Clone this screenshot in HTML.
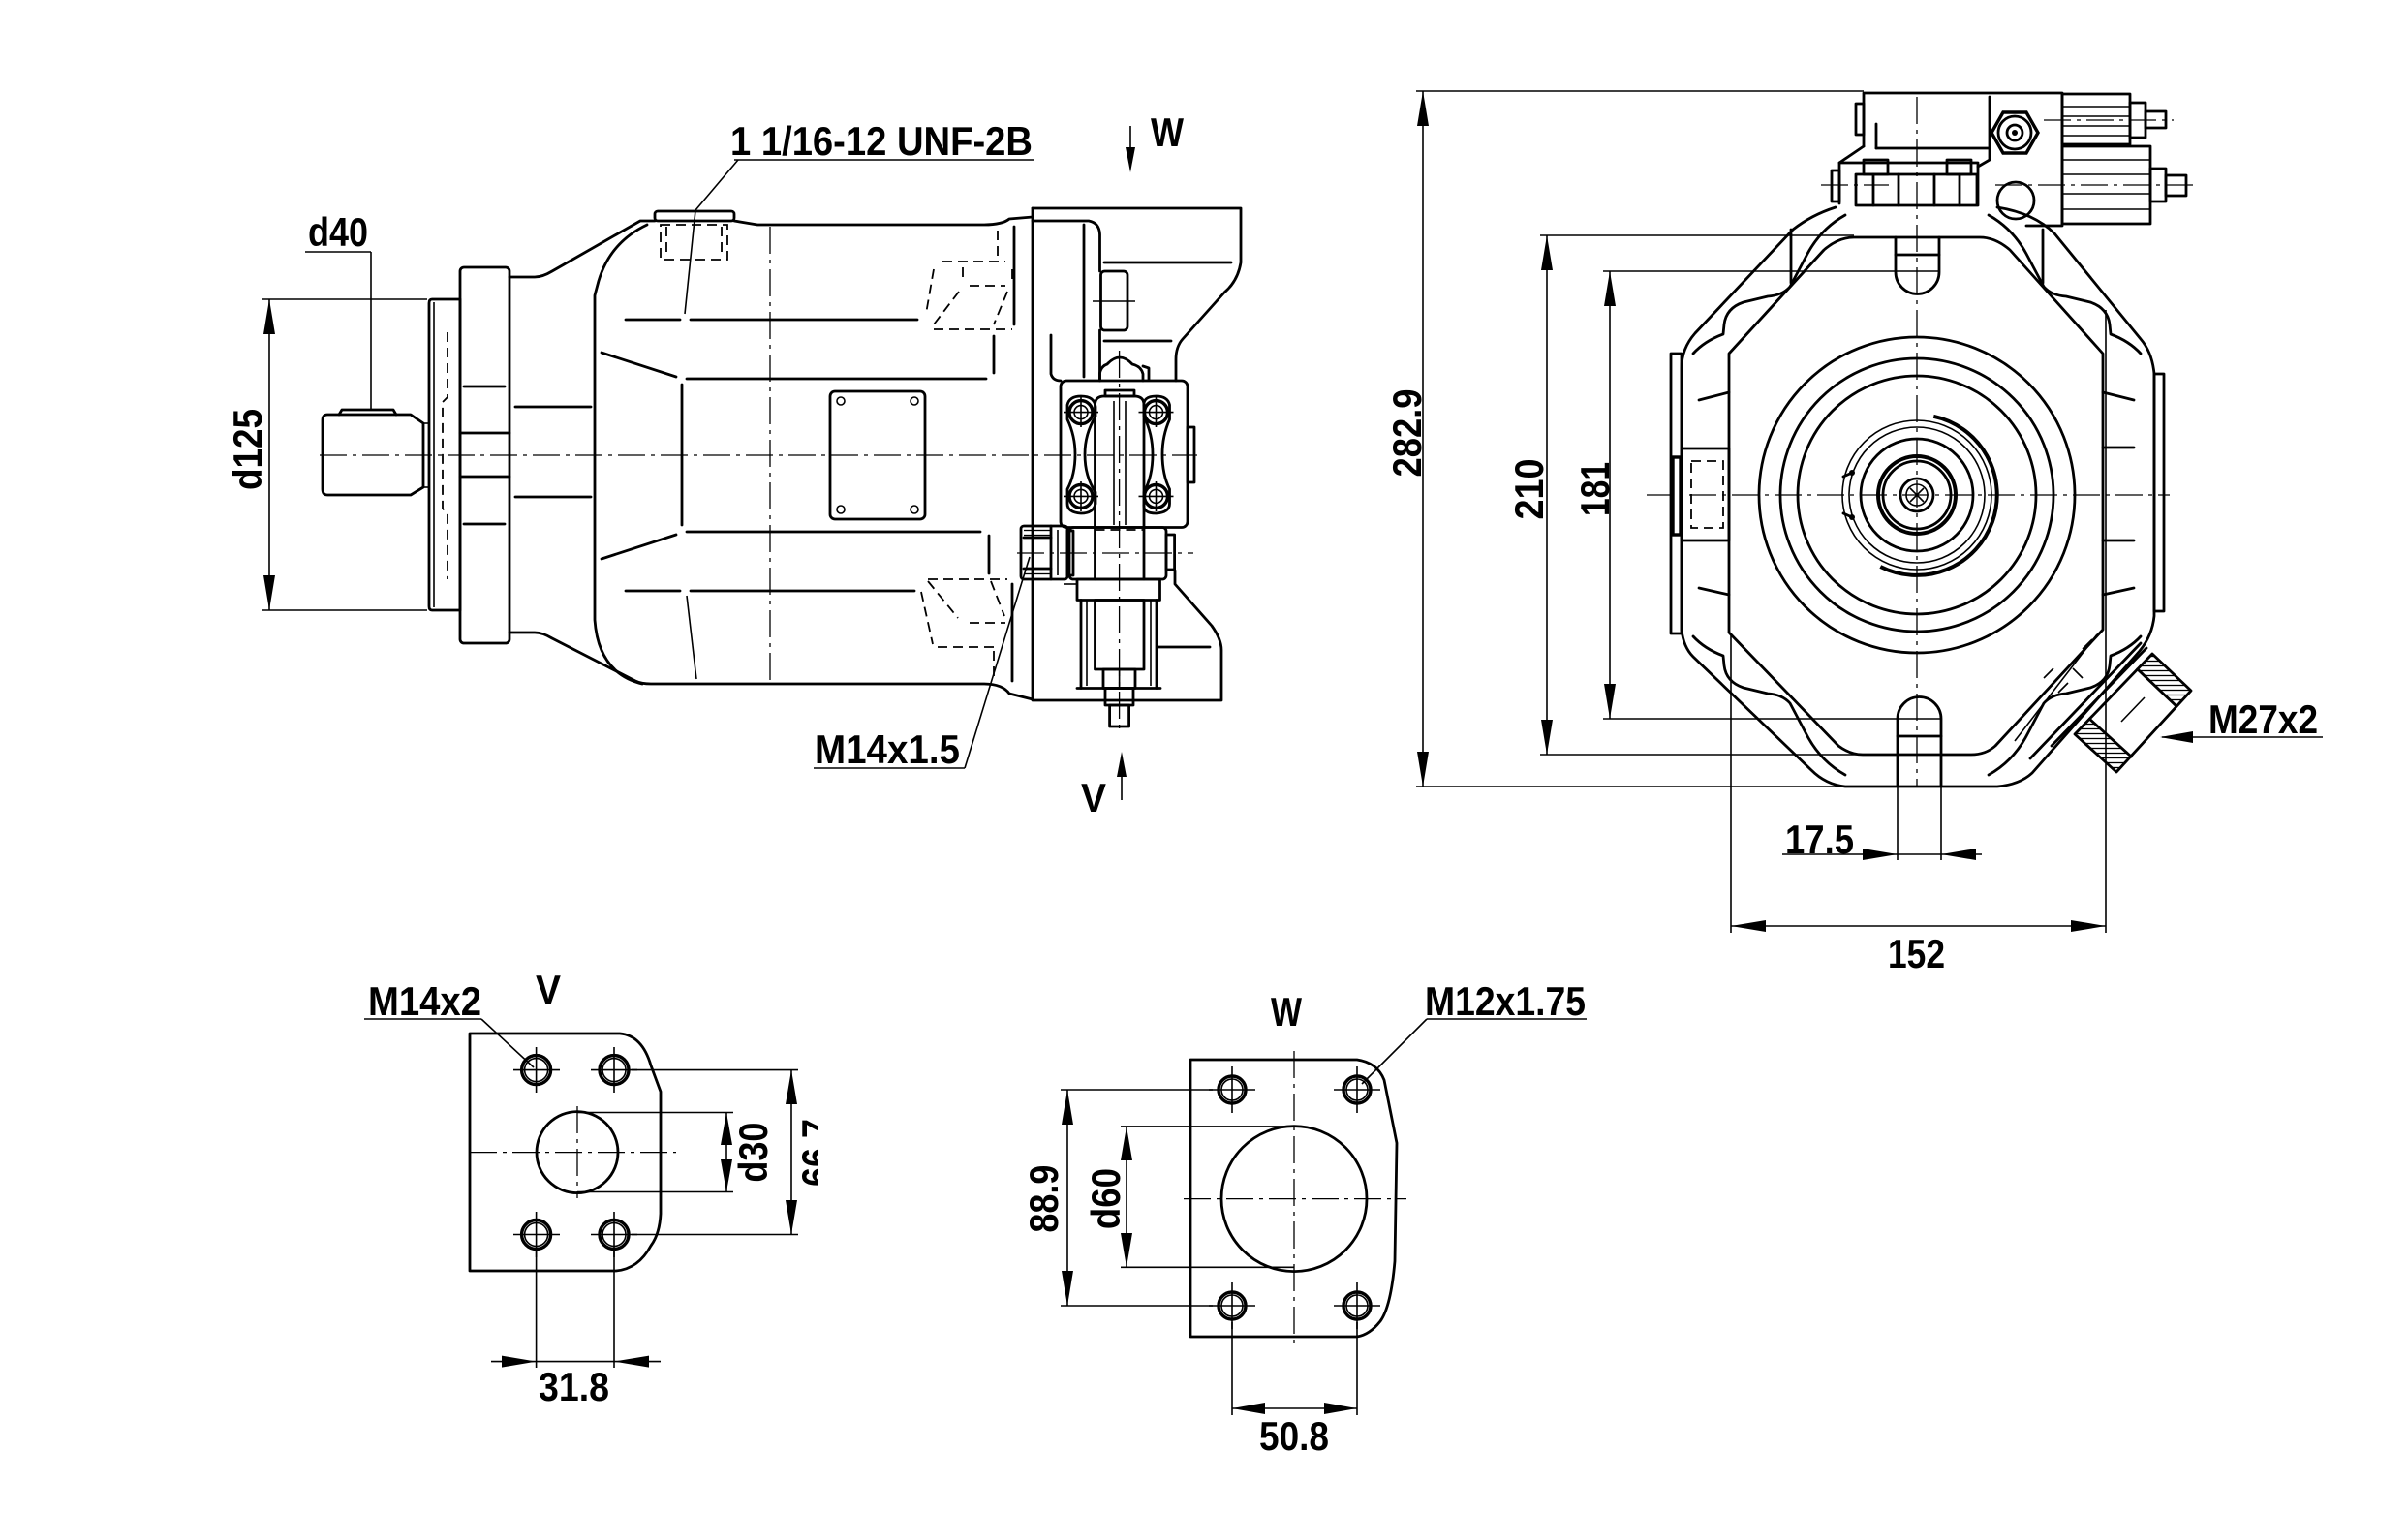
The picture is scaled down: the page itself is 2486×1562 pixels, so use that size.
<!DOCTYPE html>
<html><head><meta charset="utf-8"><style>
html,body{margin:0;padding:0;background:#fff;}
svg{display:block;}
.o{fill:none;stroke:#000;stroke-width:2.8;stroke-linejoin:round;stroke-linecap:round}
.k{fill:none;stroke:#000;stroke-width:3.4}
.t{fill:none;stroke:#000;stroke-width:1.6}
.d{fill:none;stroke:#000;stroke-width:1.8;stroke-dasharray:10 6}
.c{fill:none;stroke:#000;stroke-width:1.3;stroke-dasharray:28 6 4 6}
.a{fill:#000;stroke:none}
text{font-family:"Liberation Sans",Arial,sans-serif;font-weight:bold;font-size:42px;fill:#000}
</style></head><body>
<svg width="2486" height="1562" viewBox="0 0 2486 1562" xmlns="http://www.w3.org/2000/svg">
<defs>
<clipPath id="clip667"><rect x="800" y="1130" width="45" height="120"/></clipPath>
<pattern id="hat" patternUnits="userSpaceOnUse" width="5" height="5"><line x1="0" y1="2.5" x2="5" y2="2.5" stroke="#000" stroke-width="1.3"/></pattern>
</defs>
<rect x="0" y="0" width="2486" height="1562" fill="#fff"/>

<!-- ================= LEFT VIEW ================= -->
<line class="c" x1="330" y1="470" x2="1236" y2="470"/>
<!-- shaft -->
<path class="o" d="M338 428 L424 428 L437 437 L437 503 L424 511 L338 511 Q333 511 333 505 L333 434 Q333 428 338 428 Z"/>
<path class="o" d="M350 428 L353 423 L406 423 L409 428"/>
<line class="t" x1="437" y1="437" x2="443" y2="437"/>
<line class="t" x1="437" y1="503" x2="443" y2="503"/>
<!-- pilot -->
<path class="o" d="M446 309 L475 309 L475 630 L446 630 Q443 630 443 626 L443 313 Q443 309 446 309 Z"/>
<line class="t" x1="448" y1="312" x2="448" y2="627"/>
<path class="d" d="M462 343 L462 410 L457 415 L457 525 L462 530 L462 598"/>
<!-- flange -->
<rect class="o" x="475" y="276" width="51" height="388" rx="4"/>
<line class="o" x1="479" y1="399" x2="521" y2="399"/>
<line class="o" x1="475" y1="447" x2="526" y2="447"/>
<line class="o" x1="475" y1="492" x2="526" y2="492"/>
<line class="o" x1="479" y1="541" x2="521" y2="541"/>
<!-- neck & housing -->
<path class="o" d="M526 286 L552 286 Q560 286 570 280 L661 228 L676 228"/>
<rect class="o" x="676" y="218" width="82" height="10" rx="3"/>
<path class="o" d="M758 228 L782 232 L1015 232 Q1035 232 1042 226 L1066 224"/>
<path class="o" d="M668 232 Q630 250 618 290 L614 305 L614 640 Q618 695 663 706"/>
<path class="o" d="M526 653 L552 653 Q560 653 570 659 L656 703 Q662 706 672 706 L1015 706 Q1035 706 1042 716 L1066 722"/>
<rect class="d" x="682" y="232" width="69" height="36"/>
<line class="d" x1="688" y1="234" x2="688" y2="266"/>
<line class="d" x1="745" y1="234" x2="745" y2="266"/>
<line class="c" x1="795" y1="234" x2="795" y2="704"/>
<!-- housing internal lines -->
<line class="o" x1="532" y1="420" x2="610" y2="420"/>
<line class="o" x1="532" y1="513" x2="610" y2="513"/>
<line class="o" x1="646" y1="330" x2="702" y2="330"/>
<line class="o" x1="713" y1="330" x2="947" y2="330"/>
<line class="o" x1="646" y1="610" x2="702" y2="610"/>
<line class="o" x1="713" y1="610" x2="944" y2="610"/>
<line class="o" x1="709" y1="391" x2="1018" y2="391"/>
<line class="o" x1="709" y1="549" x2="1012" y2="549"/>
<line class="o" x1="621" y1="364" x2="698" y2="389"/>
<line class="o" x1="621" y1="577" x2="698" y2="552"/>
<line class="o" x1="704" y1="397" x2="704" y2="542"/>
<line class="t" x1="718" y1="217" x2="707" y2="324"/>
<line class="t" x1="709" y1="615" x2="719" y2="701"/>
<!-- nameplate -->
<rect class="o" x="857" y="404" width="98" height="132" rx="5"/>
<circle class="t" cx="868" cy="414" r="4"/><circle class="t" cx="944" cy="414" r="4"/>
<circle class="t" cx="868" cy="526" r="4"/><circle class="t" cx="944" cy="526" r="4"/>
<!-- dashed ribs top -->
<path class="d" d="M973 270 L1038 270 M1001 295 L1038 295 M964 340 L1045 340 M964 278 L956 324 M1045 278 L1045 293 M994 276 L994 291 M990 301 L964 335 M1040 301 L1026 335 M1030 238 L1030 265"/>
<line class="o" x1="1047" y1="234" x2="1047" y2="335"/>
<line class="o" x1="1026" y1="347" x2="1026" y2="385"/>
<!-- dashed ribs bottom -->
<path class="d" d="M958 598 L1040 598 M1001 643 L1038 643 M968 668 L1030 668 M951 611 L963 665 M958 600 L989 638 M1023 600 L1037 636 M1026 672 L1026 699"/>
<line class="o" x1="1021" y1="553" x2="1021" y2="592"/>
<line class="o" x1="1045" y1="603" x2="1045" y2="703"/>
<!-- end block -->
<path class="o" d="M1066 215 L1281 215 L1281 271 Q1278 290 1264 302 L1221 350 Q1214 358 1214 371 L1214 393"/>
<path class="o" d="M1213 589 L1213 603 L1251 646 Q1261 660 1261 671 L1261 723 L1066 723 L1066 215"/>
<path class="o" d="M1066 228 L1124 228 Q1135 230 1135.5 242 L1135.5 280"/>
<line class="o" x1="1119" y1="232" x2="1119" y2="389"/>
<path class="o" d="M1085 346 L1085 386 Q1087 393 1095 393"/>
<line class="o" x1="1140" y1="271" x2="1271" y2="271"/>
<line class="o" x1="1140" y1="352" x2="1209" y2="352"/>
<line class="o" x1="1196" y1="668" x2="1249" y2="668"/>
<rect class="o" x="1136.5" y="280" width="27.5" height="61" rx="4"/>
<line class="t" x1="1128" y1="311" x2="1172" y2="311"/>
<line class="o" x1="1135.5" y1="341" x2="1135.5" y2="393"/>
<!-- controller -->
<rect class="o" x="1095" y="393" width="131" height="151.5" rx="6"/>
<rect class="o" x="1226" y="441" width="7" height="57"/>
<path class="o" d="M1135.5 393 L1135.5 385 Q1137 378 1143 376 Q1156 362 1169 376 Q1178 378 1180 386 L1180 393"/>
<path class="o" d="M1180 378 L1186 380 L1186 392"/>
<path class="o" d="M1102 418 Q1104 409 1116 409 Q1130 409 1131 420 L1131 430 Q1120 448 1120 469 Q1120 492 1131 508 L1131 520 Q1129 530 1116 530 Q1102 529 1102 520 L1102 505 Q1110 490 1110 469 Q1110 450 1102 433 Z"/>
<path class="o" d="M1207.5 418 Q1205.5 409 1193.5 409 Q1179.5 409 1181 420 L1181 430 Q1190 448 1190 469 Q1190 492 1181 508 L1181 520 Q1179.5 530 1193.5 530 Q1207.5 529 1207.5 520 L1207.5 505 Q1200 490 1200 469 Q1200 450 1207.5 433 Z"/>
<g>
<circle class="k" cx="1116" cy="425.6" r="12"/><circle class="t" cx="1116" cy="425.6" r="7"/>
<circle class="k" cx="1193.5" cy="425.6" r="12"/><circle class="t" cx="1193.5" cy="425.6" r="7"/>
<circle class="k" cx="1116" cy="512.4" r="12"/><circle class="t" cx="1116" cy="512.4" r="7"/>
<circle class="k" cx="1193.5" cy="512.4" r="12"/><circle class="t" cx="1193.5" cy="512.4" r="7"/>
<path class="t" d="M1098 425.6 L1134 425.6 M1116 410 L1116 441 M1175.5 425.6 L1211.5 425.6 M1193.5 410 L1193.5 441 M1098 512.4 L1134 512.4 M1116 497 L1116 528 M1175.5 512.4 L1211.5 512.4 M1193.5 497 L1193.5 528"/>
</g>
<path class="o" d="M1130.5 544.5 L1130.5 418 Q1130.5 409 1140 409 L1171 409 Q1181 409 1181 418 L1181 544.5"/>
<rect class="o" x="1141" y="403" width="30" height="6"/>
<line class="t" x1="1150" y1="414" x2="1150" y2="542"/>
<line class="t" x1="1162" y1="414" x2="1162" y2="542"/>
<rect class="o" x="1104" y="544.5" width="100" height="53.5" rx="4"/>
<line class="o" x1="1130.5" y1="544.5" x2="1130.5" y2="598"/>
<line class="o" x1="1181" y1="544.5" x2="1181" y2="598"/>
<path class="d" d="M1130.5 547 L1181 547"/>
<rect class="o" x="1204" y="552" width="8.6" height="36"/>
<!-- port nut M14x1.5 -->
<rect class="o" x="1054" y="543" width="48" height="55" rx="3"/>
<line class="o" x1="1085" y1="543" x2="1085" y2="598"/>
<line class="t" x1="1092" y1="547" x2="1092" y2="594"/>
<polygon points="1057,546 1085,546 1085,555 1057,555" fill="url(#hat)"/>
<polygon points="1057,587 1085,587 1085,595 1057,595" fill="url(#hat)"/>
<line class="o" x1="1057" y1="555" x2="1085" y2="555"/>
<line class="o" x1="1057" y1="587" x2="1085" y2="587"/>
<rect class="o" x="1102" y="548" width="6" height="46"/>
<line class="t" x1="1098" y1="603" x2="1112" y2="603"/>
<rect class="o" x="1112" y="598" width="85.5" height="21.5"/>
<line class="o" x1="1116" y1="619.5" x2="1116" y2="710.5"/>
<line class="o" x1="1194" y1="619.5" x2="1194" y2="710.5"/>
<line class="o" x1="1112" y1="710.5" x2="1198" y2="710.5"/>
<rect class="o" x="1130.5" y="619.5" width="50.5" height="71.5"/>
<line class="t" x1="1122" y1="620" x2="1122" y2="708"/>
<line class="t" x1="1188" y1="620" x2="1188" y2="708"/>
<rect class="o" x="1139" y="691" width="33" height="19.5"/>
<line class="t" x1="1155.6" y1="691" x2="1155.6" y2="710"/>
<rect class="o" x="1141" y="710.5" width="29" height="17.5"/>
<rect class="o" x="1145.6" y="728" width="20" height="22"/>
<line class="c" x1="1155.6" y1="362" x2="1155.6" y2="758"/>
<line class="c" x1="1050" y1="571" x2="1232" y2="571"/>

<!-- left view dims/labels -->
<line class="t" x1="278" y1="309" x2="278" y2="630"/>
<polygon class="a" points="278,309 272,345 284,345"/>
<polygon class="a" points="278,630 272,594 284,594"/>
<line class="t" x1="271" y1="309" x2="441" y2="309"/>
<line class="t" x1="271" y1="630" x2="441" y2="630"/>
<text x="255" y="479" text-anchor="middle" transform="rotate(-90 255 464)" textLength="84" lengthAdjust="spacingAndGlyphs">d125</text>
<text x="318" y="254" textLength="62" lengthAdjust="spacingAndGlyphs">d40</text>
<line class="t" x1="315" y1="260" x2="383" y2="260"/>
<line class="t" x1="383" y1="260" x2="383" y2="423"/>
<text x="754" y="160" textLength="312" lengthAdjust="spacingAndGlyphs">1 1/16-12 UNF-2B</text>
<line class="t" x1="758" y1="165" x2="1068" y2="165"/>
<line class="t" x1="762" y1="165" x2="718" y2="217"/>
<text x="1188" y="151" textLength="34" lengthAdjust="spacingAndGlyphs">W</text>
<line class="t" x1="1167" y1="130" x2="1167" y2="156"/>
<polygon class="a" points="1167,178 1162,152 1172,152"/>
<text x="841" y="788" textLength="150" lengthAdjust="spacingAndGlyphs">M14x1.5</text>
<line class="t" x1="840" y1="793" x2="996" y2="793"/>
<line class="t" x1="996" y1="793" x2="1063" y2="575"/>
<text x="1116" y="838" textLength="26" lengthAdjust="spacingAndGlyphs">V</text>
<line class="t" x1="1158" y1="798" x2="1158" y2="826"/>
<polygon class="a" points="1158,776 1153,802 1163,802"/>

<!-- ================= RIGHT VIEW ================= -->
<line class="t" x1="1462" y1="94" x2="1924" y2="94"/>
<line class="t" x1="1462" y1="812" x2="1903" y2="812"/>
<line class="t" x1="1469" y1="94" x2="1469" y2="812"/>
<polygon class="a" points="1469,94 1463,130 1475,130"/>
<polygon class="a" points="1469,812 1463,776 1475,776"/>
<text x="1452" y="462" text-anchor="middle" transform="rotate(-90 1452 447)" textLength="91" lengthAdjust="spacingAndGlyphs">282.9</text>
<line class="t" x1="1590" y1="243" x2="1914" y2="243"/>
<line class="t" x1="1590" y1="779" x2="1926" y2="779"/>
<line class="t" x1="1597" y1="243" x2="1597" y2="779"/>
<polygon class="a" points="1597,243 1591,279 1603,279"/>
<polygon class="a" points="1597,779 1591,743 1603,743"/>
<text x="1578" y="520" text-anchor="middle" transform="rotate(-90 1578 505)" textLength="63" lengthAdjust="spacingAndGlyphs">210</text>
<line class="t" x1="1655" y1="280" x2="2002" y2="280"/>
<line class="t" x1="1655" y1="742" x2="2004" y2="742"/>
<line class="t" x1="1662" y1="280" x2="1662" y2="742"/>
<polygon class="a" points="1662,280 1656,316 1668,316"/>
<polygon class="a" points="1662,742 1656,706 1668,706"/>
<text x="1646" y="520" text-anchor="middle" transform="rotate(-90 1646 505)" textLength="56" lengthAdjust="spacingAndGlyphs">181</text>

<!-- control block -->
<path class="o" d="M1924 151 L1924 96 L2129 96 L2129 233 L2092 233"/>
<path class="o" d="M2054 100 L2054 165 L2042 172"/>
<rect class="o" x="1916" y="107" width="8" height="32"/>
<line class="o" x1="1924" y1="151" x2="1899" y2="168"/>
<path class="o" d="M1899 210 L1899 168 L2042 168 L2042 212"/>
<rect class="o" x="1891" y="176" width="8" height="32"/>
<rect class="o" x="1916" y="180" width="125" height="32"/>
<rect class="o" x="1924" y="165" width="25" height="15"/>
<rect class="o" x="2010" y="165" width="25" height="15"/>
<path class="o" d="M1934 180 L1934 212 M1960 180 L1960 212 M1997 180 L1997 212 M2023 180 L2023 212"/>
<line class="o" x1="1937" y1="153" x2="2054" y2="153"/>
<line class="o" x1="1937" y1="128" x2="1937" y2="153"/>
<polygon class="k" points="2104,137 2092,158 2068,158 2056,137 2068,116 2092,116"/>
<circle class="o" cx="2080" cy="137" r="17"/>
<circle class="o" cx="2080" cy="137" r="8"/>
<circle class="a" cx="2080" cy="137" r="3"/>
<circle class="o" cx="2081" cy="207" r="19"/>
<rect class="o" x="2129" y="97" width="70" height="52"/>
<path class="t" d="M2129 110 L2199 110 M2129 120 L2199 120 M2129 130 L2199 130 M2129 140 L2199 140"/>
<rect class="o" x="2199" y="106" width="16" height="36"/>
<rect class="o" x="2215" y="115" width="21" height="17"/>
<rect class="o" x="2129" y="151" width="91" height="80"/>
<path class="t" d="M2129 165 L2220 165 M2129 180 L2220 180 M2129 200 L2220 200 M2129 216 L2220 216"/>
<rect class="o" x="2220" y="174" width="16" height="34"/>
<rect class="o" x="2236" y="181" width="21" height="21"/>
<line class="c" x1="2110" y1="124" x2="2244" y2="124"/>
<line class="c" x1="2060" y1="191" x2="2264" y2="191"/>
<line class="c" x1="1880" y1="191" x2="1950" y2="191"/>

<!-- outer shell -->
<path class="o" d="M1895 214 Q1870 222 1851 237 L1750 344 Q1736 360 1736 380 L1736 650 Q1738 668 1748 678 L1870 795 Q1885 810 1905 812 L2062 812 Q2085 810 2098 798 L2209 672 Q2222 656 2224 636 L2224 386 Q2222 364 2210 350 L2121 241 Q2100 220 2062 214"/>
<path class="o" d="M1905 222 Q1880 236 1866 262 L1848 296 Q1840 305 1825 306 L1800 312 Q1782 318 1780 335 L1779 345 Q1760 352 1748 365"/>
<path class="o" d="M2053 222 Q2078 236 2092 262 L2110 296 Q2118 305 2133 306 L2158 312 Q2176 318 2178 335 L2179 345 Q2198 352 2210 365"/>
<path class="o" d="M1905 800 Q1880 786 1866 760 L1848 726 Q1840 717 1825 716 L1800 710 Q1782 704 1780 687 L1779 677 Q1760 670 1748 657"/>
<path class="o" d="M2053 800 Q2078 786 2092 760 L2110 726 Q2118 717 2133 716 L2158 710 Q2176 704 2178 687 L2179 677 Q2198 670 2210 657"/>
<line class="o" x1="1849" y1="237" x2="1849" y2="292"/>
<line class="o" x1="2109" y1="237" x2="2109" y2="292"/>
<!-- inner plate -->
<path class="o" d="M1914 245 L2044 245 Q2060 245 2075 258 L2171 365 L2171 650 L2060 770 Q2050 779 2035 779 L1923 779 Q1910 779 1898 770 L1785 653 L1785 365 L1883 258 Q1898 245 1914 245 Z"/>
<path class="o" d="M1957 245 L1957 281 A22.5 22.5 0 0 0 2002 281 L2002 245"/>
<line class="o" x1="1957" y1="263" x2="2002" y2="263"/>
<path class="o" d="M1959 812 L1959 742 A22.5 22.5 0 0 1 2004 742 L2004 812"/>
<line class="o" x1="1959" y1="760" x2="2004" y2="760"/>
<rect class="o" x="1725" y="365" width="11" height="289"/>
<rect class="o" x="1736" y="463" width="49" height="95"/>
<rect class="d" x="1746" y="476" width="33" height="69"/>
<rect class="k" x="1727" y="472" width="8" height="80"/>
<rect class="o" x="2224" y="386" width="10" height="245"/>
<path class="o" d="M1754 413 L1785 405 M1754 607 L1785 614 M2171 405 L2203 413 M2171 462 L2203 462 M2171 558 L2203 558 M2171 614 L2203 607"/>
<circle class="o" cx="1979" cy="511" r="163"/>
<circle class="o" cx="1979" cy="511" r="141"/>
<circle class="o" cx="1979" cy="511" r="123"/>
<circle class="t" cx="1979" cy="511" r="77"/>
<circle class="t" cx="1979" cy="511" r="70"/>
<path d="M1996.3 429.8 A83 83 0 1 1 1941.3 585" fill="none" stroke="#000" stroke-width="4"/>
<circle class="o" cx="1979" cy="511" r="58"/>
<circle cx="1979" cy="511" r="40" fill="none" stroke="#000" stroke-width="4"/>
<circle class="o" cx="1979" cy="511" r="35"/>
<circle class="o" cx="1979" cy="511" r="17"/>
<circle class="t" cx="1979" cy="511" r="11"/>
<path class="t" d="M1972 504 L1986 518 M1986 504 L1972 518"/>
<path class="o" d="M1903 492 L1912 488 M1903 530 L1912 534"/>
<circle class="a" cx="1912" cy="488" r="3"/><circle class="a" cx="1912" cy="534" r="3"/>
<line class="c" x1="1979" y1="100" x2="1979" y2="812"/>
<line class="c" x1="1700" y1="511" x2="2240" y2="511"/>
<!-- M27 fitting -->
<polygon points="2222,675 2262,713 2246.7,728.8 2206.7,690.8" fill="url(#hat)"/>
<polygon points="2142,758 2185,797 2200.3,781.2 2157.3,742.2" fill="url(#hat)"/>
<polygon points="2222,675 2262,713 2185,797 2142,758" fill="none" stroke="#000" stroke-width="2.8" stroke-linejoin="round"/>
<line class="o" x1="2206.7" y1="690.8" x2="2246.7" y2="728.8"/>
<line class="o" x1="2157.3" y1="742.2" x2="2200.3" y2="781.2"/>
<line class="t" x1="2214" y1="720" x2="2190" y2="745"/>
<line class="o" x1="2118" y1="770" x2="2216" y2="669"/>
<line class="o" x1="2096" y1="783" x2="2210" y2="664"/>
<line class="t" x1="2080" y1="765" x2="2165" y2="655"/>
<path class="t" d="M2120 690 L2110 700 M2135 705 L2125 715 M2150 700 L2140 690 M2160 660 L2150 670"/>
<!-- 17.5 -->
<line class="t" x1="1959" y1="812" x2="1959" y2="888"/>
<line class="t" x1="2004" y1="812" x2="2004" y2="888"/>
<line class="t" x1="1840" y1="882" x2="2046" y2="882"/>
<polygon class="a" points="1959,882 1923,876 1923,888"/>
<polygon class="a" points="2004,882 2040,876 2040,888"/>
<text x="1843" y="881" textLength="71" lengthAdjust="spacingAndGlyphs">17.5</text>
<!-- 152 -->
<line class="t" x1="1787" y1="653" x2="1787" y2="963"/>
<line class="t" x1="2174" y1="320" x2="2174" y2="963"/>
<line class="t" x1="1787" y1="956" x2="2174" y2="956"/>
<polygon class="a" points="1787,956 1823,950 1823,962"/>
<polygon class="a" points="2174,956 2138,950 2138,962"/>
<text x="1949" y="999" textLength="59" lengthAdjust="spacingAndGlyphs">152</text>
<!-- M27x2 -->
<text x="2280" y="757" textLength="113" lengthAdjust="spacingAndGlyphs">M27x2</text>
<line class="t" x1="2232" y1="761" x2="2398" y2="761"/>
<polygon class="a" points="2230,761 2264,755 2264,767"/>

<!-- ================= V PLATE ================= -->
<path class="o" d="M485 1067 L640 1067 Q663 1069 672 1100 L682 1127 L682 1253 Q681 1274 672 1286 Q659 1310 636 1312 L485 1312 Z"/>
<g>
<circle class="k" cx="553.6" cy="1104.6" r="15"/><circle class="t" cx="553.6" cy="1104.6" r="12"/>
<circle class="k" cx="634" cy="1104.6" r="15"/><circle class="t" cx="634" cy="1104.6" r="12"/>
<circle class="k" cx="553.6" cy="1274.5" r="15"/><circle class="t" cx="553.6" cy="1274.5" r="12"/>
<circle class="k" cx="634" cy="1274.5" r="15"/><circle class="t" cx="634" cy="1274.5" r="12"/>
<path class="t" d="M530 1104.6 L578 1104.6 M553.6 1081 L553.6 1128 M610 1104.6 L658 1104.6 M634 1081 L634 1128 M530 1274.5 L578 1274.5 M553.6 1251 L553.6 1298 M610 1274.5 L658 1274.5 M634 1251 L634 1298"/>
</g>
<circle class="o" cx="596" cy="1189.6" r="42"/>
<line class="c" x1="485" y1="1189.6" x2="698" y2="1189.6"/>
<line class="c" x1="596" y1="1142" x2="596" y2="1237"/>
<line class="t" x1="596" y1="1148.5" x2="757" y2="1148.5"/>
<line class="t" x1="596" y1="1230.5" x2="757" y2="1230.5"/>
<line class="t" x1="750" y1="1148.5" x2="750" y2="1230.5"/>
<polygon class="a" points="750,1148.5 744,1182 756,1182"/>
<polygon class="a" points="750,1230.5 744,1197 756,1197"/>
<text x="777" y="1204.6" text-anchor="middle" transform="rotate(-90 777 1189.6)" textLength="62" lengthAdjust="spacingAndGlyphs">d30</text>
<line class="t" x1="652" y1="1104.6" x2="824" y2="1104.6"/>
<line class="t" x1="652" y1="1274.5" x2="824" y2="1274.5"/>
<line class="t" x1="817" y1="1104.6" x2="817" y2="1274.5"/>
<polygon class="a" points="817,1104.6 811,1140 823,1140"/>
<polygon class="a" points="817,1274.5 811,1239 823,1239"/>
<g clip-path="url(#clip667)"><text x="841" y="1206" text-anchor="middle" transform="rotate(-90 841 1190)" textLength="70" lengthAdjust="spacingAndGlyphs">66.7</text></g>
<line class="t" x1="553.6" y1="1290" x2="553.6" y2="1412"/>
<line class="t" x1="634" y1="1290" x2="634" y2="1412"/>
<line class="t" x1="507" y1="1405.6" x2="682" y2="1405.6"/>
<polygon class="a" points="553.6,1405.6 518,1399.6 518,1411.6"/>
<polygon class="a" points="634,1405.6 670,1399.6 670,1411.6"/>
<text x="556" y="1446" textLength="73" lengthAdjust="spacingAndGlyphs">31.8</text>
<text x="380" y="1048" textLength="117" lengthAdjust="spacingAndGlyphs">M14x2</text>
<line class="t" x1="376" y1="1052" x2="497" y2="1052"/>
<line class="t" x1="497" y1="1052" x2="551" y2="1102"/>
<text x="553" y="1036" textLength="26" lengthAdjust="spacingAndGlyphs">V</text>

<!-- ================= W PLATE ================= -->
<path class="o" d="M1229 1094 L1401 1094 Q1422 1097 1429 1115 L1442 1180 L1440 1302 Q1436 1349 1425 1364 Q1414 1378 1401 1380 L1229 1380 Z"/>
<g>
<circle class="k" cx="1272" cy="1125" r="14"/><circle class="t" cx="1272" cy="1125" r="11"/>
<circle class="k" cx="1401" cy="1125" r="14"/><circle class="t" cx="1401" cy="1125" r="11"/>
<circle class="k" cx="1272" cy="1348" r="14"/><circle class="t" cx="1272" cy="1348" r="11"/>
<circle class="k" cx="1401" cy="1348" r="14"/><circle class="t" cx="1401" cy="1348" r="11"/>
<path class="t" d="M1248 1125 L1296 1125 M1272 1101 L1272 1149 M1377 1125 L1425 1125 M1401 1101 L1401 1149 M1248 1348 L1296 1348 M1272 1324 L1272 1372 M1377 1348 L1425 1348 M1401 1324 L1401 1372"/>
</g>
<circle class="o" cx="1336" cy="1237.6" r="75"/>
<line class="c" x1="1222" y1="1237.6" x2="1452" y2="1237.6"/>
<line class="c" x1="1336" y1="1085" x2="1336" y2="1386"/>
<line class="t" x1="1095" y1="1125" x2="1252" y2="1125"/>
<line class="t" x1="1095" y1="1348" x2="1252" y2="1348"/>
<line class="t" x1="1102" y1="1125" x2="1102" y2="1348"/>
<polygon class="a" points="1102,1125 1096,1161 1108,1161"/>
<polygon class="a" points="1102,1348 1096,1312 1108,1312"/>
<text x="1077" y="1252.6" text-anchor="middle" transform="rotate(-90 1077 1237.6)" textLength="70" lengthAdjust="spacingAndGlyphs">88.9</text>
<line class="t" x1="1157" y1="1162.9" x2="1336" y2="1162.9"/>
<line class="t" x1="1157" y1="1308.3" x2="1336" y2="1308.3"/>
<line class="t" x1="1163" y1="1162.9" x2="1163" y2="1308.3"/>
<polygon class="a" points="1163,1162.9 1157,1198 1169,1198"/>
<polygon class="a" points="1163,1308.3 1157,1273 1169,1273"/>
<text x="1141" y="1252.6" text-anchor="middle" transform="rotate(-90 1141 1237.6)" textLength="63" lengthAdjust="spacingAndGlyphs">d60</text>
<line class="t" x1="1272" y1="1365" x2="1272" y2="1461"/>
<line class="t" x1="1401" y1="1365" x2="1401" y2="1461"/>
<line class="t" x1="1272" y1="1454" x2="1401" y2="1454"/>
<polygon class="a" points="1272,1454 1306,1448 1306,1460"/>
<polygon class="a" points="1401,1454 1367,1448 1367,1460"/>
<text x="1300" y="1497" textLength="72" lengthAdjust="spacingAndGlyphs">50.8</text>
<text x="1312" y="1059" textLength="32" lengthAdjust="spacingAndGlyphs">W</text>
<text x="1471" y="1048" textLength="166" lengthAdjust="spacingAndGlyphs">M12x1.75</text>
<line class="t" x1="1473" y1="1052" x2="1638" y2="1052"/>
<line class="t" x1="1473" y1="1052" x2="1406" y2="1119"/>
</svg>
</body></html>
